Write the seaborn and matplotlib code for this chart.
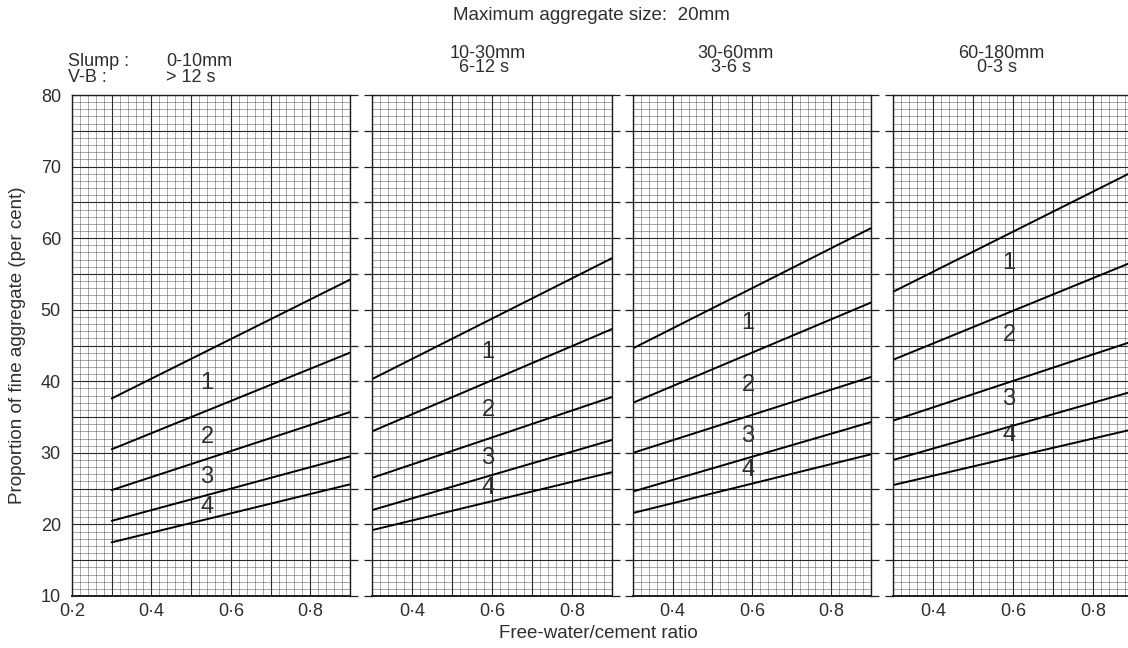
import matplotlib
matplotlib.use('Agg')
import numpy as np
import pandas as pd
import matplotlib.pyplot as plt
import seaborn as sns

# --- Data ---
# every grading line is straight, so two points (w/c = 0.3 and 0.9) describe it
WC_RATIO = [0.3, 0.9]
CURVES = ['a', 'b', 'c', 'd', 'e']

P1_START = [37.6, 30.5, 24.8, 20.5, 17.5]
P1_END = [54.2, 44.0, 35.7, 29.5, 25.6]
P2_START = [40.3, 33.0, 26.5, 22.0, 19.2]
P2_END = [57.2, 47.3, 37.8, 31.8, 27.3]
P3_START = [44.6, 37.0, 30.0, 24.6, 21.6]
P3_END = [61.4, 51.0, 40.6, 34.3, 29.8]
P4_START = [52.5, 43.0, 34.5, 29.0, 25.5]
P4_END = [69.3, 56.7, 45.6, 38.6, 33.3]

SLUMP = ['0-10mm', '10-30mm', '30-60mm', '60-180mm']
VEBE = ['> 12 s', '6-12 s', '3-6 s', '0-3 s']

# grading zone labels (1-4) sitting between the lines
ZONES = ['1', '2', '3', '4']
ZONE_X = [0.54, 0.59, 0.59, 0.59]
P1_ZONE_Y = [39.8, 32.2, 26.6, 22.5]
P2_ZONE_Y = [44.1, 36.0, 29.3, 25.1]
P3_ZONE_Y = [48.1, 39.5, 32.3, 27.6]
P4_ZONE_Y = [56.5, 46.5, 37.5, 32.5]

Y_TICKS = [10, 15, 20, 25, 30, 35, 40, 45, 50, 55, 60, 65, 70, 75, 80]
Y_LABELS = ['10', '', '20', '', '30', '', '40', '', '50', '', '60', '', '70', '', '80']
X_TICKS_FIRST = [0.2, 0.3, 0.4, 0.5, 0.6, 0.7, 0.8, 0.9]
X_LABELS_FIRST = ['0·2', '', '0·4', '', '0·6', '', '0·8', '']
X_TICKS = [0.3, 0.4, 0.5, 0.6, 0.7, 0.8, 0.9]
X_LABELS = ['', '0·4', '', '0·6', '', '0·8', '']

# --- Style ---
sns.set_style('white')
plt.rcParams['font.family'] = ['Liberation Sans', 'DejaVu Sans']
INK = '#1e1e1e'
TXT = '#2e2e2e'

W, H = 1128, 648
fig = plt.figure(figsize=(W / 100, H / 100), dpi=100)

# panel frames in pixels: (left, width)
frames = [(72, 278), (372, 240), (633, 238), (893, 240)]
top_px, bottom_px = 95, 596

starts = [P1_START, P2_START, P3_START, P4_START]
ends = [P1_END, P2_END, P3_END, P4_END]
zone_ys = [P1_ZONE_Y, P2_ZONE_Y, P3_ZONE_Y, P4_ZONE_Y]

rows = []
for p in range(4):
    for c, s, e in zip(CURVES, starts[p], ends[p]):
        rows.append({'panel': p, 'curve': c, 'wc': WC_RATIO[0], 'fine': s})
        rows.append({'panel': p, 'curve': c, 'wc': WC_RATIO[1], 'fine': e})
df = pd.DataFrame(rows)

for p, (left, width) in enumerate(frames):
    ax = fig.add_axes([left / W, 1 - bottom_px / H, width / W, (bottom_px - top_px) / H])

    sns.lineplot(data=df[df['panel'] == p], x='wc', y='fine', units='curve',
                 estimator=None, color='black', lw=1.4, legend=False, ax=ax)

    for z, zy in zip(ZONES, zone_ys[p]):
        ax.text(ZONE_X[p], zy, z, fontsize=17, color=TXT, ha='center', va='center')

    if p == 0:
        ax.set_xlim(0.2, 0.9)
        ax.set_xticks(X_TICKS_FIRST)
        ax.set_xticklabels(X_LABELS_FIRST)
        ax.set_xticks(np.arange(0.2, 0.9001, 0.02), minor=True)
    else:
        ax.set_xlim(0.3, 0.9)
        ax.set_xticks(X_TICKS)
        ax.set_xticklabels(X_LABELS)
        ax.set_xticks(np.arange(0.3, 0.9001, 0.02), minor=True)
    ax.set_ylim(10, 80)
    ax.set_yticks(Y_TICKS)
    ax.set_yticks(range(10, 81), minor=True)
    if p == 0:
        ax.set_yticklabels(Y_LABELS)
    else:
        ax.set_yticklabels([])

    # graph paper
    ax.grid(which='minor', color='#484848', lw=0.45, alpha=0.75)
    ax.grid(which='major', color='#2a2a2a', lw=0.8)
    ax.set_axisbelow(True)

    ax.tick_params(axis='x', which='both', length=0, pad=5, labelsize=13, labelcolor=TXT)
    ax.tick_params(axis='y', which='minor', length=0)
    ax.tick_params(axis='y', which='major', direction='out', length=6, width=0.9,
                   color=INK, left=(p != 0), right=True, labelleft=(p == 0),
                   pad=2, labelsize=13, labelcolor=TXT)
    for side in ['left', 'right', 'top', 'bottom']:
        ax.spines[side].set_visible(True)
        ax.spines[side].set_color(INK)
        ax.spines[side].set_linewidth(1.0)
    ax.spines['bottom'].set_linewidth(1.4)
    ax.set_xlabel('')
    ax.set_ylabel('')


def px_text(x, y, s, **kw):
    fig.text(x / W, 1 - y / H, s, color=TXT, va='center', **kw)


px_text(591, 15, 'Maximum aggregate size:  20mm', fontsize=13.5, ha='center')

px_text(68, 62, 'Slump :', fontsize=13, ha='left')
px_text(68, 78, 'V-B :', fontsize=13, ha='left')
px_text(166, 62, SLUMP[0], fontsize=13, ha='left')
px_text(166, 78, VEBE[0], fontsize=13, ha='left')

head_x = [None, 488, 735, 1001]
for p in range(1, 4):
    px_text(head_x[p], 53, SLUMP[p], fontsize=13, ha='center')
    px_text(head_x[p] - 4, 68, VEBE[p], fontsize=13, ha='center')

px_text(598, 633, 'Free-water/cement ratio', fontsize=13.5, ha='center')
fig.text(18 / W, 1 - 345 / H, 'Proportion of fine aggregate (per cent)', rotation=90,
         fontsize=13.5, color=TXT, ha='center', va='center')

plt.savefig('out.png', dpi=100)
